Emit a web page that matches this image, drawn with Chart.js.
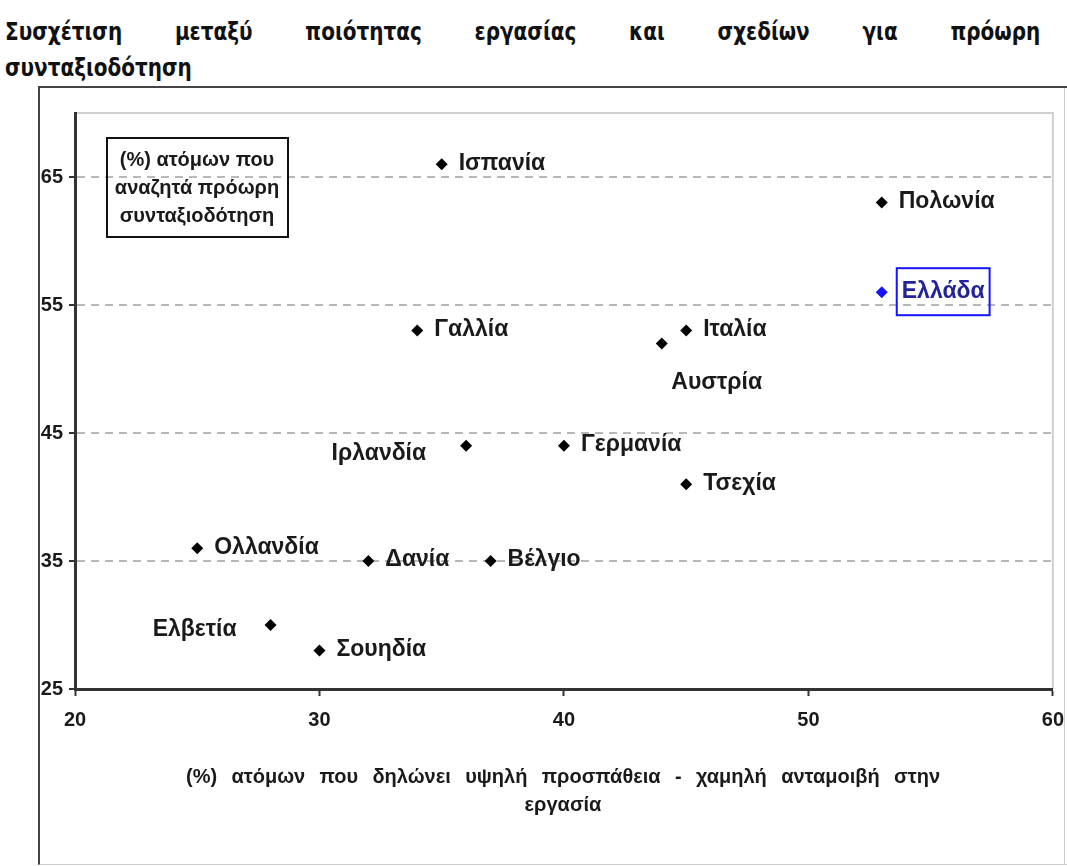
<!DOCTYPE html>
<html>
<head>
<meta charset="utf-8">
<script src="https://cdn.jsdelivr.net/npm/chart.js@4"></script>
<style>
  html, body { margin: 0; padding: 0; background: #fff; overflow: hidden; }
  body { width: 1067px; height: 866px; position: relative; }
  #titlos {
    position: absolute; left: 5px; top: 14px; width: 1294px;
    transform: scaleX(0.8); transform-origin: 0 0;
    font: bold 25px "DejaVu Sans", Verdana, sans-serif; color: #111; line-height: 36px;
  }
  #titlos .g1 { text-align: justify; text-align-last: justify; }
  #plaisio {
    position: absolute; left: 38px; top: 86px; width: 1036px; height: 776px;
    border-left: 2px solid #444; border-top: 2px solid #444;
    border-bottom: 1px solid #ccc;
  }
  #dexiGrammi { position: absolute; left: 1064px; top: 88px; width: 1px; height: 776px; background: #ccc; }
</style>
</head>
<body>
<div id="titlos"><div class="g1">Συσχέτιση μεταξύ ποιότητας εργασίας και σχεδίων για πρόωρη</div><div>συνταξιοδότηση</div></div>
<div id="plaisio"><canvas id="grafimaDiasporas" width="1036" height="776"></canvas></div>
<div id="dexiGrammi"></div>
<script>
// χώρες και τιμές (x: υψηλή προσπάθεια - χαμηλή ανταμοιβή, y: πρόωρη συνταξιοδότηση)
const xores = ['Ισπανία', 'Πολωνία', 'Ελλάδα', 'Γαλλία', 'Ιταλία', 'Αυστρία', 'Ιρλανδία',
  'Γερμανία', 'Τσεχία', 'Ολλανδία', 'Δανία', 'Βέλγιο', 'Ελβετία', 'Σουηδία'];
const prospatheia = [35, 53, 53, 34, 45, 44, 36, 40, 45, 25, 32, 37, 28, 30];
const proorhSyntaxi = [66, 63, 56, 53, 53, 52, 44, 44, 41, 36, 35, 35, 30, 28];
const ticksX = [20, 30, 40, 50, 60];
const ticksY = [25, 35, 45, 55, 65];

const titlosY = ['(%) ατόμων που', 'αναζητά πρόωρη', 'συνταξιοδότηση'];
const titlosX = ['(%) ατόμων που δηλώνει υψηλή προσπάθεια - χαμηλή ανταμοιβή στην', 'εργασία'];

const MPLE = '#1414ff';
const GRAMMATA = 'bold 23px "Liberation Sans", Arial, sans-serif';

const ctx = document.getElementById('grafimaDiasporas');

// ετικέτες δίπλα στα σημεία
const etiketesPlugin = {
  id: 'etiketes',
  beforeDraw(chart) {
    const a = chart.chartArea;
    const c = chart.ctx;
    c.save();
    c.strokeStyle = '#d0d0d0';
    c.lineWidth = 2;
    c.beginPath();
    c.moveTo(a.left, a.top);
    c.lineTo(a.right, a.top);
    c.lineTo(a.right, a.bottom);
    c.stroke();
    c.restore();
  },
  afterDatasetsDraw(chart) {
    const c = chart.ctx;
    const meta = chart.getDatasetMeta(0);
    c.save();
    c.font = GRAMMATA;
    c.textBaseline = 'middle';
    meta.data.forEach((p, i) => {
      const onoma = xores[i];
      let x = p.x + 17, y = p.y - 1, align = 'left';
      if (onoma === 'Αυστρία') { x = p.x + 55; y = p.y + 39; align = 'center'; }
      if (onoma === 'Ιρλανδία') { x = p.x - 40; y = p.y + 8; align = 'right'; }
      if (onoma === 'Ελβετία') { x = p.x - 34; y = p.y + 5; align = 'right'; }
      c.textAlign = align;
      if (onoma === 'Ελλάδα') {
        const w = c.measureText(onoma).width;
        c.strokeStyle = MPLE;
        c.lineWidth = 2;
        c.strokeRect(p.x + 15, p.y - 24, w + 10, 47);
        c.fillStyle = '#24249a';
        c.fillText(onoma, p.x + 20, y);
      } else {
        c.fillStyle = '#1a1a1a';
        c.fillText(onoma, x, y);
      }
    });

    // πλαίσιο τίτλου άξονα y
    const a = chart.chartArea;
    const bx = a.left + 32, by = a.top + 25;
    c.strokeStyle = '#111';
    c.lineWidth = 2;
    c.strokeRect(bx, by, 181, 99);
    c.font = 'bold 20px "Liberation Sans", Arial, sans-serif';
    c.fillStyle = '#1a1a1a';
    c.textAlign = 'center';
    titlosY.forEach((t, i) => c.fillText(t, bx + 90, by + 22 + i * 28));

    // τίτλος άξονα x (στοιχισμένος)
    const aristera = 146, dexia = 900;
    const lexeis = titlosX[0].split(' ');
    const platos = lexeis.reduce((s, w) => s + c.measureText(w).width, 0);
    const keno = (dexia - aristera - platos) / (lexeis.length - 1);
    let px = aristera;
    c.textAlign = 'left';
    lexeis.forEach(w => { c.fillText(w, px, a.bottom + 88); px += c.measureText(w).width + keno; });
    c.textAlign = 'center';
    c.fillText(titlosX[1], (aristera + dexia) / 2, a.bottom + 116);
    c.restore();
  }
};

new Chart(ctx.getContext('2d'), {
  type: 'scatter',
  data: {
    datasets: [{
      data: prospatheia.map((v, i) => ({ x: v, y: proorhSyntaxi[i] })),
      pointStyle: 'rectRot',
      pointRadius: 6,
      pointHoverRadius: 6,
      pointBackgroundColor: c => xores[c.dataIndex] === 'Ελλάδα' ? MPLE : '#000',
      pointBorderColor: c => xores[c.dataIndex] === 'Ελλάδα' ? MPLE : '#000',
      pointBorderWidth: 0
    }]
  },
  options: {
    responsive: false,
    animation: false,
    layout: { padding: { top: 25, right: 2, left: 0, bottom: 0 } },
    plugins: { legend: { display: false }, tooltip: { enabled: false } },
    scales: {
      x: {
        type: 'linear', min: 20, max: 60,
        afterFit: s => { s.height = 175; },
        afterBuildTicks: s => { s.ticks = ticksX.map(v => ({ value: v })); },
        ticks: { font: { family: '"Liberation Sans", Arial', size: 20, weight: 'bold' }, color: '#1a1a1a', padding: 12 },
        grid: { drawOnChartArea: false, tickLength: 7, tickColor: '#333', tickWidth: 2 },
        border: { color: '#333', width: 3 }
      },
      y: {
        type: 'linear', min: 25, max: 70,
        afterFit: s => { s.width = 35; },
        afterBuildTicks: s => { s.ticks = ticksY.map(v => ({ value: v })); },
        ticks: { font: { family: '"Liberation Sans", Arial', size: 20, weight: 'bold' }, color: '#1a1a1a', padding: 6 },
        grid: {
          color: c => c.tick && c.tick.value === 25 ? 'rgba(0,0,0,0)' : '#b8b8b8',
          lineWidth: 2, tickLength: 6, tickColor: '#333', tickWidth: 2, tickBorderDash: []
        },
        border: { color: '#333', width: 3, dash: [8, 6] }
      }
    }
  },
  plugins: [etiketesPlugin]
});
</script>
</body>
</html>
